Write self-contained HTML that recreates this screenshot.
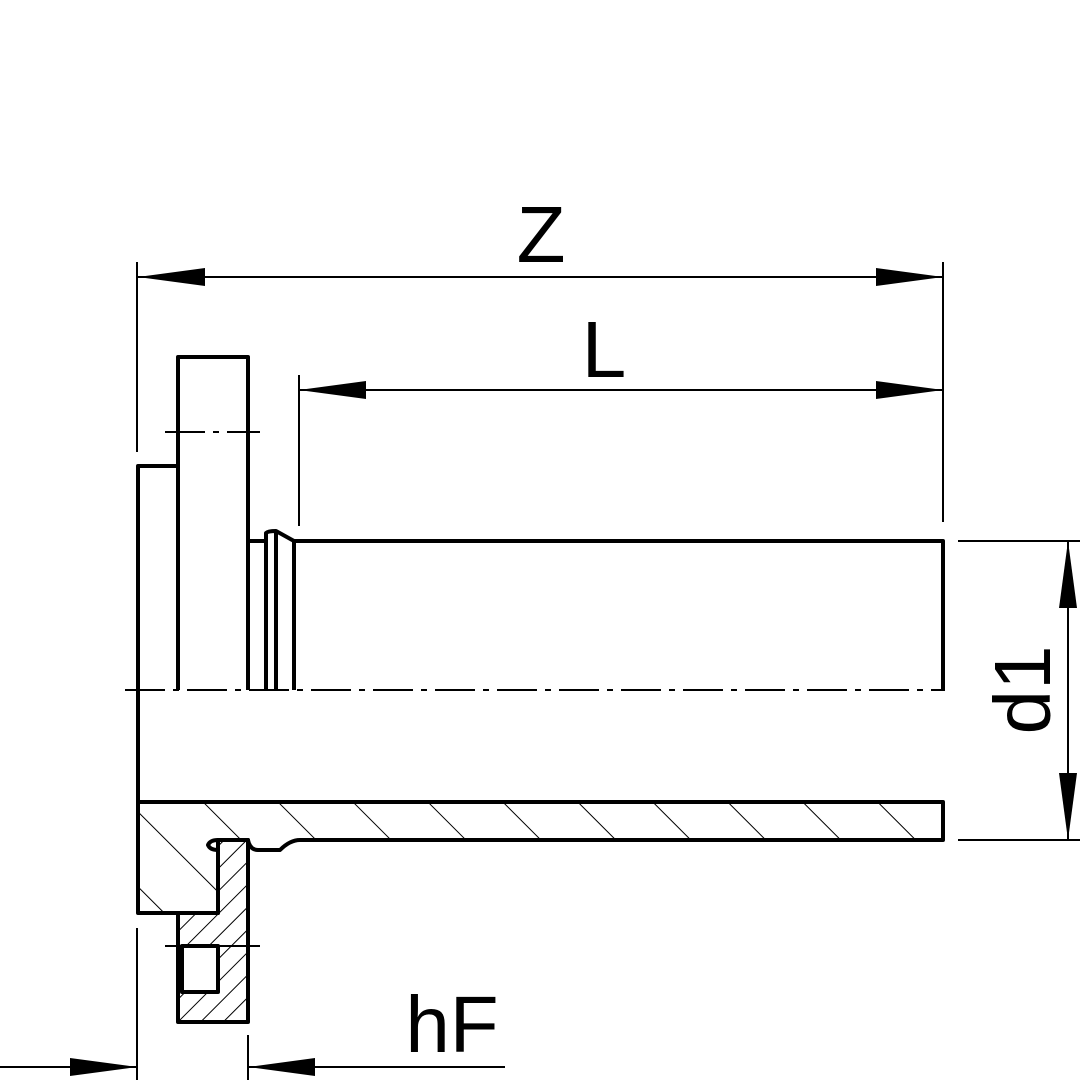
<!DOCTYPE html>
<html><head><meta charset="utf-8"><style>
html,body{margin:0;padding:0;background:#fff}
svg{display:block}
text{font-family:"Liberation Sans",sans-serif;fill:#000}
</style></head><body>
<svg width="1087" height="1087" viewBox="0 0 1087 1087" xmlns="http://www.w3.org/2000/svg">
<defs>
<pattern id="h1" patternUnits="userSpaceOnUse" width="53" height="53" patternTransform="rotate(-45)">
<line x1="0" y1="0" x2="0" y2="53" stroke="#000" stroke-width="2"/>
</pattern>
<pattern id="h2" patternUnits="userSpaceOnUse" width="16" height="16" patternTransform="rotate(45)">
<line x1="0" y1="0" x2="0" y2="16" stroke="#000" stroke-width="2"/>
</pattern>
</defs>
<g fill="none" stroke="#000" stroke-width="4" stroke-linejoin="round">
<path d="M138,690 V466 H178"/>
<path d="M178,690 V357 H248 V690"/>
<path d="M248,541 H266 V690 M266,541 V533 Q268,531 276,531 L294,541 V690 M276,531 V690 M294,541 H943 V690"/>
<path d="M138,690 V913 H218 V850 Q210,850 208,845 Q210,840 218,840 H248 Q250,850 258,850 L280,850 Q290,840 300,840 H943 V802 H138" fill="url(#h1)"/>
<path d="M178,913 V1022 H248 V840 H218 V913 Z" fill="url(#h2)"/>
<rect x="182" y="946" width="36" height="46" fill="#fff"/>
</g>
<g fill="none" stroke="#000" stroke-width="2">
<line x1="125" y1="690" x2="945" y2="690" stroke-dasharray="40,8,6,8"/>
<line x1="165" y1="432" x2="260" y2="432" stroke-dasharray="40,8,6,8"/>
<line x1="165" y1="946" x2="260" y2="946"/>
<line x1="137" y1="262" x2="137" y2="452"/>
<line x1="943" y1="262" x2="943" y2="522"/>
<line x1="299" y1="375" x2="299" y2="526"/>
<line x1="958" y1="541" x2="1080" y2="541"/>
<line x1="958" y1="840" x2="1080" y2="840"/>
<line x1="137" y1="928" x2="137" y2="1080"/>
<line x1="248" y1="1035" x2="248" y2="1080"/>
<line x1="138" y1="277" x2="943" y2="277"/>
<line x1="299" y1="390" x2="943" y2="390"/>
<line x1="1068" y1="541" x2="1068" y2="840"/>
<line x1="0" y1="1067" x2="137" y2="1067"/>
<line x1="248" y1="1067" x2="505" y2="1067"/>
</g>
<g fill="#000">
<polygon points="138,277 205,268 205,286"/>
<polygon points="943,277 876,268 876,286"/>
<polygon points="299,390 366,381 366,399"/>
<polygon points="943,390 876,381 876,399"/>
<polygon points="1068,541 1059,608 1077,608"/>
<polygon points="1068,840 1059,773 1077,773"/>
<polygon points="137,1067 70,1058 70,1076"/>
<polygon points="248,1067 315,1058 315,1076"/>
</g>
<text x="541" y="262" font-size="80" text-anchor="middle">Z</text>
<text x="604" y="377" font-size="80" text-anchor="middle">L</text>
<text x="452" y="1052" font-size="80" text-anchor="middle">hF</text>
<text transform="translate(1050,690) rotate(-90)" font-size="80" text-anchor="middle">d1</text>
</svg>
</body></html>
